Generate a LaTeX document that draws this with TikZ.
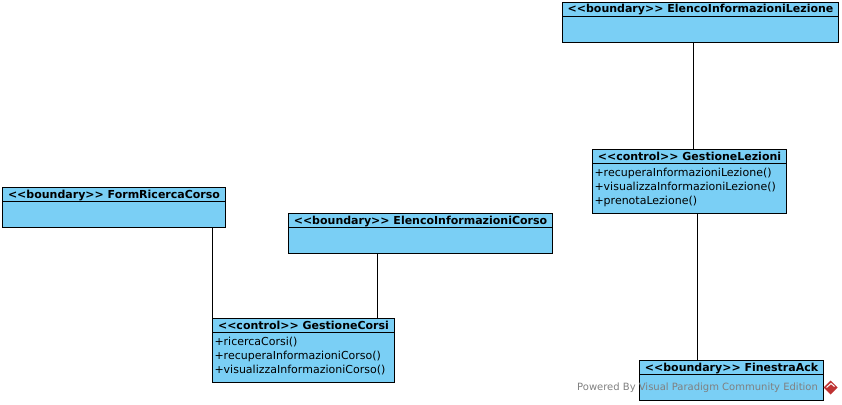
\documentclass[tikz,border=0pt]{standalone}
\usepackage{fontspec}
\setmainfont{DejaVu Sans}
\usetikzlibrary{positioning}
\definecolor{classblue}{RGB}{122,207,245}
\definecolor{markgray}{RGB}{128,128,128}
\definecolor{markred}{RGB}{190,50,50}
\newcommand{\stereo}[1]{<{}<#1>{}>}
\tikzset{
  classhead/.style={draw=black,fill=classblue,line width=1pt,inner sep=0pt,outer sep=0pt,
    anchor=north west,minimum height=14pt,text height=9pt,text depth=2pt,
    font=\fontsize{11}{14}\selectfont\bfseries},
  classbody/.style={draw=black,fill=classblue,line width=1pt,inner sep=0pt,outer sep=0pt,
    minimum height=#1},
  classbody/.default=26pt,
  methodlist/.style={inner xsep=2pt,inner ysep=4.5pt,outer sep=0pt,anchor=north west,align=left,
    font=\fontsize{11}{14}\selectfont},
  link/.style={line width=1pt,black},
}
\begin{document}
\begin{tikzpicture}[x=1pt,y=-1pt]
        \useasboundingbox (0,0) rectangle (842,404);
        % boundary classes
        \node[classhead,minimum width=276pt] (elencoLezioneHead) at (562.5,2.5) {\stereo{boundary} ElencoInformazioniLezione};
        \node[classbody,minimum width=276pt,below=0pt of elencoLezioneHead] (elencoLezione) {};
        \node[classhead,minimum width=223pt] (formRicercaHead) at (2.5,187.5) {\stereo{boundary} FormRicercaCorso};
        \node[classbody,minimum width=223pt,below=0pt of formRicercaHead] (formRicerca) {};
        \node[classhead,minimum width=264pt] (elencoCorsoHead) at (288.5,213.5) {\stereo{boundary} ElencoInformazioniCorso};
        \node[classbody,minimum width=264pt,below=0pt of elencoCorsoHead] (elencoCorso) {};
        \node[classhead,minimum width=184pt] (finestraHead) at (639.5,360.5) {\stereo{boundary} FinestraAck};
        \node[classbody,minimum width=184pt,below=0pt of finestraHead] (finestra) {};
        % control classes
        \node[classhead,minimum width=194pt] (lezioniHead) at (592.5,149.5) {\stereo{control} GestioneLezioni};
        \node[classbody=50pt,minimum width=194pt,below=0pt of lezioniHead] (lezioni) {};
        \node[methodlist] (lezioniOps) at (lezioni.north west) {+recuperaInformazioniLezione()\\+visualizzaInformazioniLezione()\\+prenotaLezione()};
        \node[classhead,minimum width=182pt] (corsiHead) at (212.5,318.5) {\stereo{control} GestioneCorsi};
        \node[classbody=50pt,minimum width=182pt,below=0pt of corsiHead] (corsi) {};
        \node[methodlist] (corsiOps) at (corsi.north west) {+ricercaCorsi()\\+recuperaInformazioniCorso()\\+visualizzaInformazioniCorso()};
        % connectors
        \coordinate (linkA) at (693.5,0);
        \coordinate (linkB) at (697.5,0);
        \coordinate (linkC) at (212.5,0);
        \coordinate (linkD) at (377.5,0);
        \draw[link] (elencoLezione.south -| linkA) -- (lezioniHead.north -| linkA);
        \draw[link] (lezioni.south -| linkB) -- (finestraHead.north -| linkB);
        \draw[link] (formRicerca.south -| linkC) -- (corsiHead.north -| linkC);
        \draw[link] (elencoCorso.south -| linkD) -- (corsiHead.north -| linkD);
        % watermark
        \node[anchor=west,inner sep=0pt,text=markgray,font=\fontsize{10}{12}\selectfont] (powered) at (577,387.5) {Powered By Visual Paradigm Community Edition};
        \fill[markred] (830.5,380.5) -- (837.5,387.5) -- (830.5,394.5) -- (823.5,387.5) -- cycle;
        \draw[white,line width=1pt] (826.5,387.5) -- (831,383.5) -- (834.5,386.5);
\end{tikzpicture}
\end{document}
